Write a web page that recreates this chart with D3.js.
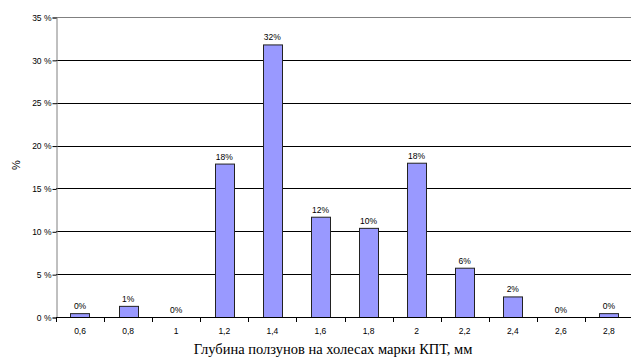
<!DOCTYPE html>
<html>
<head>
<meta charset="utf-8">
<script src="https://cdn.jsdelivr.net/npm/d3@7"></script>
<style>
  html, body { margin: 0; padding: 0; background: #fff; }
  svg { display: block; }
</style>
</head>
<body>
<svg id="chart" width="631" height="363"></svg>
<script>
// Глубина ползунов (мм) и доля колёс, %
const depths = ["0,6", "0,8", "1", "1,2", "1,4", "1,6", "1,8", "2", "2,2", "2,4", "2,6", "2,8"];
const shares = [0.45, 1.3, 0, 17.9, 31.8, 11.7, 10.4, 18.0, 5.75, 2.4, 0, 0.45];
const yTicks = [0, 5, 10, 15, 20, 25, 30, 35];

const svg = d3.select("#chart");
const m = { left: 56, top: 17, right: 633, bottom: 317 };

const x = d3.scaleBand().domain(depths).range([m.left, m.right]).paddingInner(0.6).paddingOuter(0.3);
const band = d3.scaleBand().domain(depths).range([m.left, m.right]);
const y = d3.scaleLinear().domain([0, 35]).range([m.bottom, m.top]);

const small = "Arial, 'Liberation Sans', sans-serif";

// horizontal grid lines
svg.append("g").selectAll("line")
  .data(yTicks.filter(t => t > 0))
  .join("line")
  .attr("x1", m.left).attr("x2", 631)
  .attr("y1", d => Math.round(y(d)) + 0.5).attr("y2", d => Math.round(y(d)) + 0.5)
  .attr("stroke", d => d === 35 ? "#808080" : "#000")
  .attr("stroke-width", 1);

// y axis
const yAxis = svg.append("g")
  .attr("transform", `translate(${m.left + 0.5},0.5)`)
  .call(d3.axisLeft(y).tickValues(yTicks).tickSize(4).tickFormat(d => d + " %"));
yAxis.select(".domain").attr("stroke", "#808080");
yAxis.selectAll(".tick line").attr("stroke", "#000");
yAxis.selectAll("text").attr("font-family", small).attr("font-size", 8.5).attr("fill", "#000").attr("x", -5);

// bars
svg.append("g").selectAll("rect")
  .data(shares)
  .join("rect")
  .attr("x", (d, i) => Math.round(x(depths[i])) + 0.5)
  .attr("width", Math.round(x.bandwidth()))
  .attr("y", d => y(d) + 0.5)
  .attr("height", d => y(0) - y(d))
  .attr("fill", "#9999ff")
  .attr("stroke", d => d > 0 ? "#222" : "none")
  .attr("stroke-width", 1);

// value labels
svg.append("g").selectAll("text")
  .data(shares)
  .join("text")
  .attr("x", (d, i) => x(depths[i]) + x.bandwidth() / 2)
  .attr("y", d => y(d) - 4)
  .attr("text-anchor", "middle")
  .attr("font-family", small).attr("font-size", 8.5)
  .text(d => Math.round(d) + "%");

// x axis with ticks on category boundaries
const xAxisG = svg.append("g");
xAxisG.append("line")
  .attr("x1", m.left).attr("x2", 631)
  .attr("y1", m.bottom + 0.5).attr("y2", m.bottom + 0.5)
  .attr("stroke", "#000");
xAxisG.selectAll("line.tk")
  .data(depths)
  .join("line").attr("class", "tk")
  .attr("x1", d => Math.round(band(d)) + 0.5).attr("x2", d => Math.round(band(d)) + 0.5)
  .attr("y1", m.bottom).attr("y2", m.bottom + 5)
  .attr("stroke", "#000");
xAxisG.selectAll("text")
  .data(depths)
  .join("text")
  .attr("x", d => band(d) + band.bandwidth() / 2)
  .attr("y", 334)
  .attr("text-anchor", "middle")
  .attr("font-family", small).attr("font-size", 8.5)
  .text(d => d);

// axis titles
svg.append("text")
  .attr("transform", "translate(20,165) rotate(-90)")
  .attr("text-anchor", "middle")
  .attr("font-family", small).attr("font-size", 11)
  .text("%");

svg.append("text")
  .attr("x", 333).attr("y", 354)
  .attr("text-anchor", "middle")
  .attr("font-family", "'Liberation Serif', 'Times New Roman', serif").attr("font-size", 14.5)
  .text("Глубина ползунов на холесах марки КПТ, мм");
</script>
</body>
</html>
